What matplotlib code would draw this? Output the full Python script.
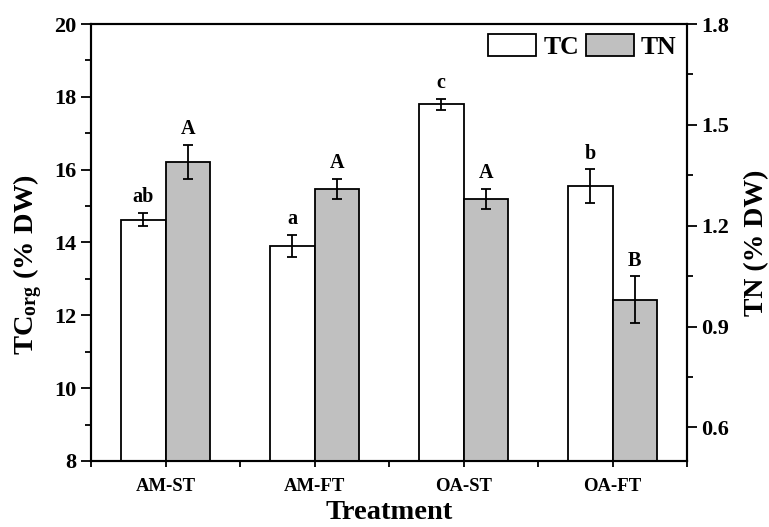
import numpy as np
import matplotlib.pyplot as plt
from matplotlib.patches import Patch

plt.rcParams['font.family'] = 'Liberation Serif'
plt.rcParams['font.weight'] = 'bold'
plt.rcParams['mathtext.fontset'] = 'custom'
plt.rcParams['mathtext.rm'] = 'Liberation Serif:bold'
plt.rcParams['mathtext.it'] = 'Liberation Serif:bold'
plt.rcParams['mathtext.bf'] = 'Liberation Serif:bold'

treatments = ['AM-ST', 'AM-FT', 'OA-ST', 'OA-FT']
tc = [14.63, 13.90, 17.79, 15.55]
tc_err = [0.18, 0.31, 0.16, 0.46]
tc_letters = ['ab', 'a', 'c', 'b']
tn = [1.39, 1.309, 1.28, 0.98]
tn_err = [0.05, 0.03, 0.03, 0.07]
tn_letters = ['A', 'A', 'A', 'B']

x = np.arange(1, len(treatments) + 1)
w = 0.3

fig = plt.figure(figsize=(7.69, 5.27), dpi=100)
ax = fig.add_axes([91 / 769, 1 - 461 / 527, 596 / 769, 437 / 527])
ax2 = ax.twinx()

ekw = dict(ecolor='black', elinewidth=1.3, capsize=3.6, capthick=1.3)
ax.bar(x, tc, width=-w, align='edge', color='white', edgecolor='black',
       linewidth=1.3, yerr=tc_err, error_kw=ekw, zorder=2)
ax2.bar(x, tn, width=w, align='edge', color='#c0c0c0', edgecolor='black',
        linewidth=1.3, yerr=tn_err, error_kw=ekw, zorder=2)

# significance letters
for xi, v, e, lab in zip(x, tc, tc_err, tc_letters):
    ax.annotate(lab, (xi - w / 2, v + e), xytext=(0, 4), textcoords='offset points',
                ha='center', va='bottom', fontsize=14.5, fontweight='bold')
for xi, v, e, lab in zip(x, tn, tn_err, tn_letters):
    ax2.annotate(lab, (xi + w / 2, v + e), xytext=(0, 4), textcoords='offset points',
                 ha='center', va='bottom', fontsize=14.5, fontweight='bold')

ax.set_xlim(0.5, 4.5)
ax.set_ylim(8, 20)
ax2.set_ylim(0.5, 1.8)

ax.set_xticks(x)
ax.set_xticklabels(treatments, fontsize=13.5, fontweight='bold')
ax.set_xticks(np.arange(0.5, 4.6, 1.0), minor=True)
ax.set_yticks(np.arange(8, 20.1, 2))
ax.set_yticks(np.arange(9, 20, 2), minor=True)
ax2.set_yticks([0.6, 0.9, 1.2, 1.5, 1.8])
ax2.set_yticks([0.75, 1.05, 1.35, 1.65], minor=True)

for a in (ax, ax2):
    for s in a.spines.values():
        s.set_linewidth(1.5)
    a.tick_params(which='major', direction='out', width=1.3, labelsize=16)
    a.tick_params(which='minor', direction='out', width=1.3, length=4)
ax.tick_params(axis='y', which='major', length=7)
ax2.tick_params(axis='y', which='major', length=7)
ax.tick_params(axis='x', which='major', length=4, labelsize=13.5, pad=8)
for lab in ax.get_yticklabels() + ax2.get_yticklabels():
    lab.set_fontweight('bold')

ax.set_xlabel('Treatment', fontsize=20.5, fontweight='bold')
ax.set_ylabel('TC$_{org}$ (% DW)', fontsize=20.5, fontweight='bold')
ax2.set_ylabel('TN (% DW)', fontsize=20, fontweight='bold')
ax.xaxis.set_label_coords(0.5, -0.09)
ax.yaxis.set_label_coords(-0.078, 0.449)
ax2.yaxis.set_label_coords(1.096, 0.5)

handles = [Patch(facecolor='white', edgecolor='black', linewidth=1.3, label='TC'),
           Patch(facecolor='#c0c0c0', edgecolor='black', linewidth=1.3, label='TN')]
ax.legend(handles=handles, loc='upper right', ncol=2, frameon=False,
          prop={'size': 18.5, 'weight': 'bold'}, handlelength=1.87, handleheight=0.9,
          handletextpad=0.27, columnspacing=0.27, borderaxespad=0.0, borderpad=0.4)

fig.savefig('out.png', dpi=100)
